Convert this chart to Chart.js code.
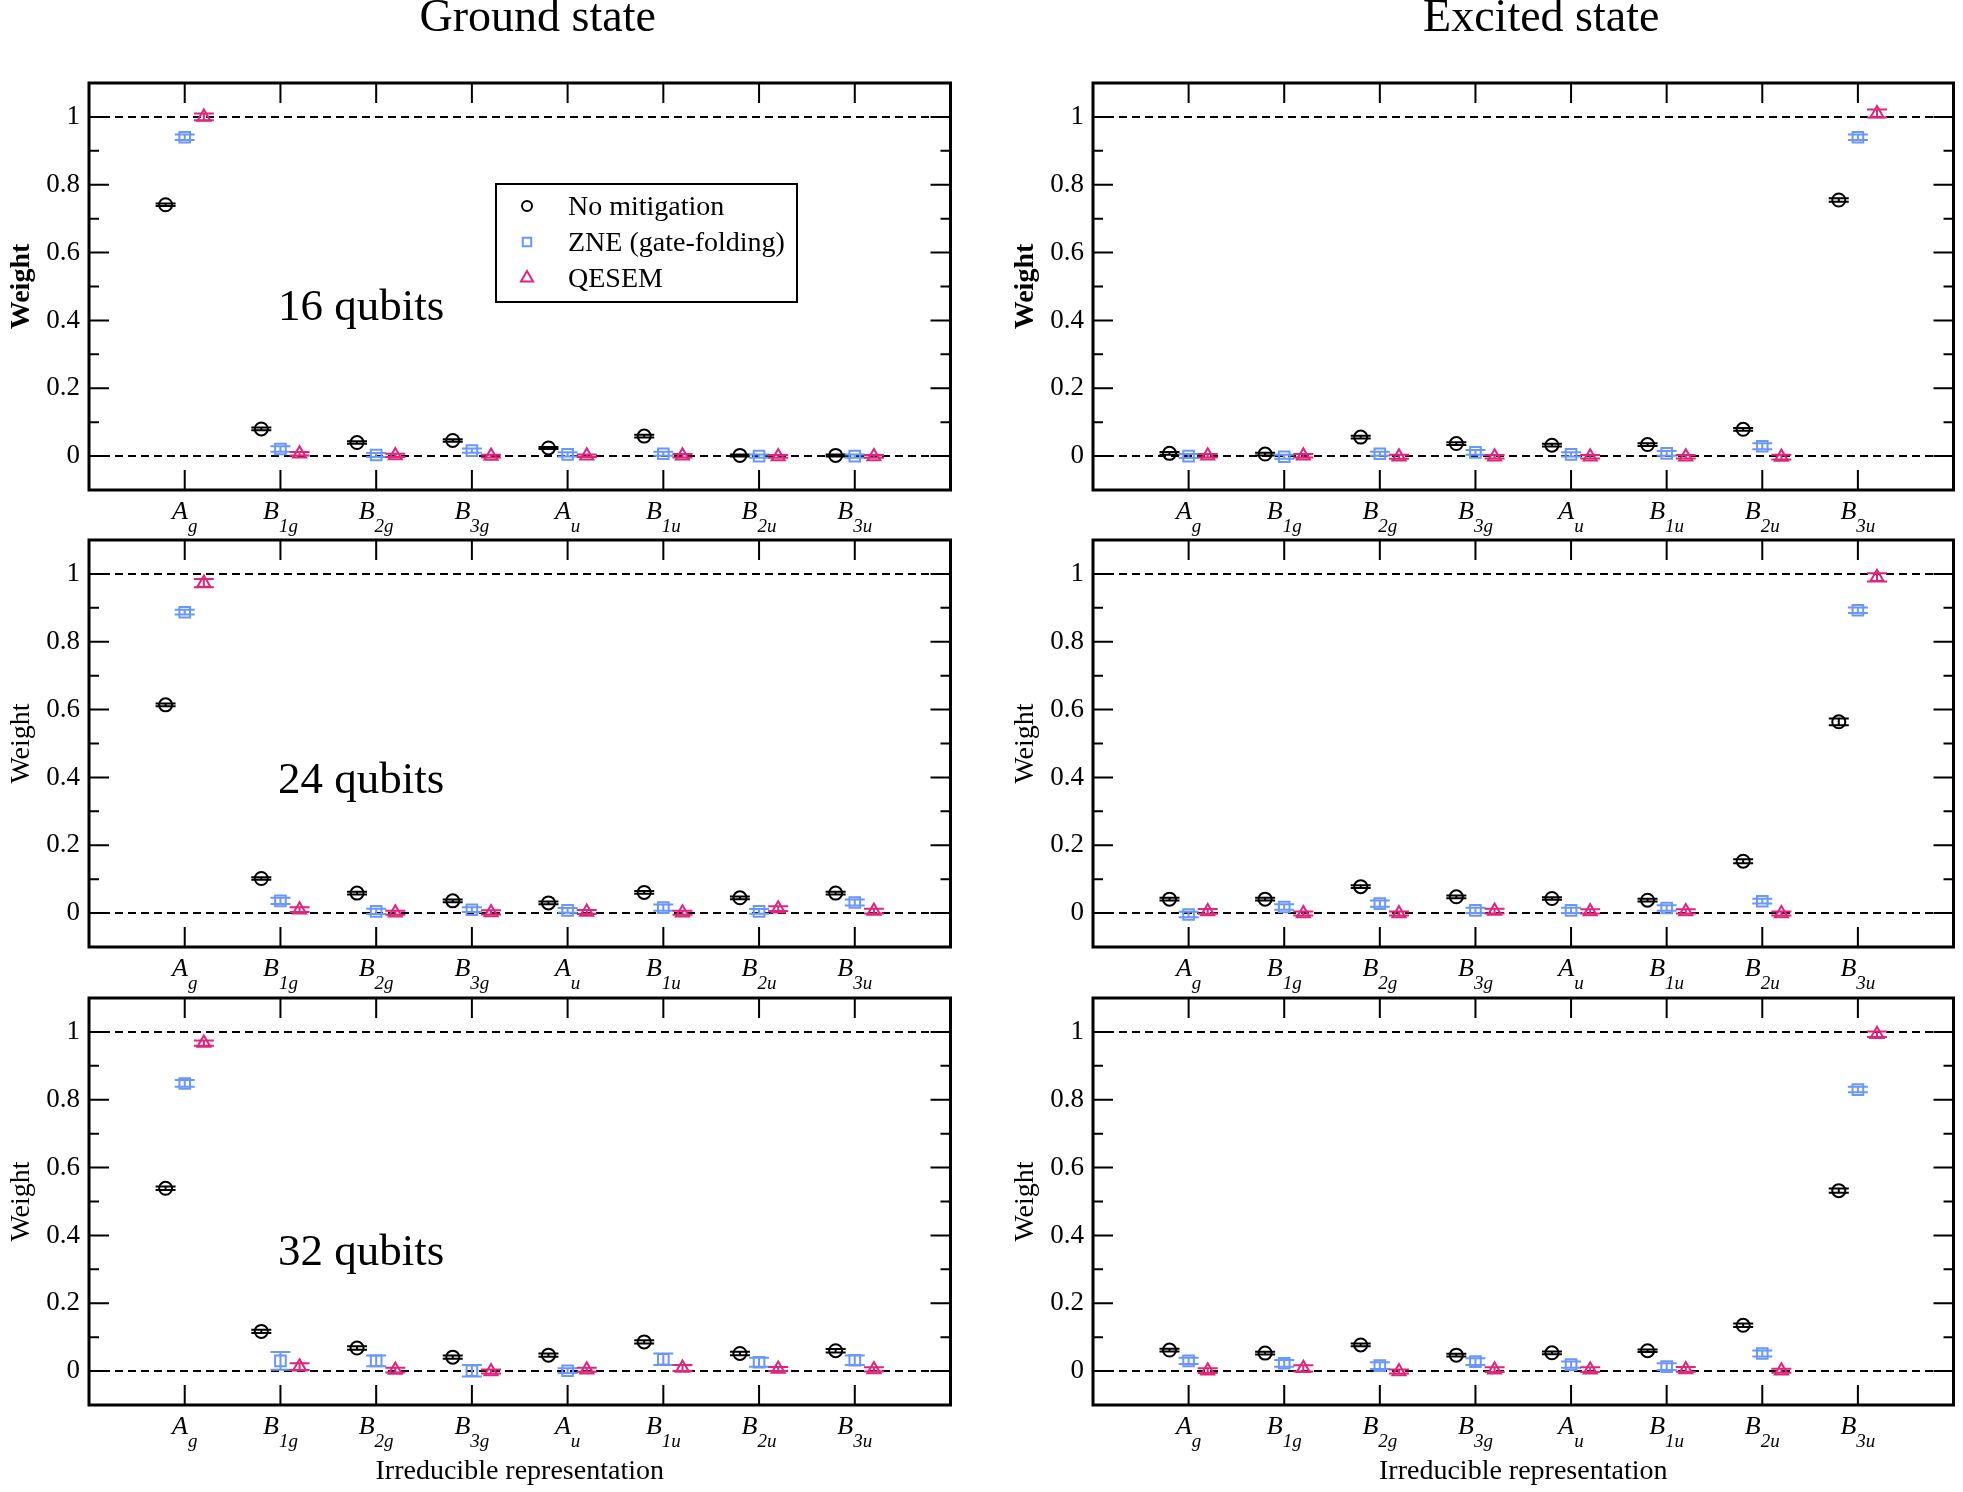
<!DOCTYPE html>
<html>
<head>
<meta charset="utf-8">
<script src="https://cdn.jsdelivr.net/npm/chart.js@4.4.1/dist/chart.umd.min.js"></script>
<style>
  html, body { margin: 0; padding: 0; background: #fff; }
  body { width: 1963px; height: 1492px; position: relative; overflow: hidden; }
  canvas { position: absolute; }
</style>
</head>
<body>
<canvas id="g16"></canvas>
<canvas id="e16"></canvas>
<canvas id="g24"></canvas>
<canvas id="e24"></canvas>
<canvas id="g32"></canvas>
<canvas id="e32"></canvas>
<script>
// irreducible representations (x axis), written as letter + subscript
const irrepMain = ['A', 'B', 'B', 'B', 'A', 'B', 'B', 'B'];
const irrepSub = ['g', '1g', '2g', '3g', 'u', '1u', '2u', '3u'];
const seriesNames = ['No mitigation', 'ZNE (gate-folding)', 'QESEM'];
const yTickValues = [0, 0.2, 0.4, 0.6, 0.8, 1];
const yMinorValues = [0.1, 0.3, 0.5, 0.7, 0.9];
const refLines = [0, 1];

// ground state weights
const ground16NoMit = [0.741, 0.080, 0.040, 0.046, 0.024, 0.059, 0.002, 0.002];
const ground16Zne   = [0.940, 0.021, 0.003, 0.016, 0.005, 0.007, 0.000, 0.000];
const ground16Qesem = [1.000, 0.007, 0.002, 0.000, 0.001, 0.001, -0.001, -0.001];
const ground24NoMit = [0.614, 0.102, 0.059, 0.036, 0.030, 0.061, 0.045, 0.059];
const ground24Zne   = [0.887, 0.036, 0.005, 0.010, 0.008, 0.016, 0.005, 0.031];
const ground24Qesem = [0.973, 0.010, 0.001, 0.002, 0.003, 0.001, 0.013, 0.006];
const ground32NoMit = [0.539, 0.117, 0.068, 0.041, 0.047, 0.086, 0.052, 0.060];
const ground32Zne   = [0.848, 0.030, 0.030, 0.001, 0.001, 0.035, 0.026, 0.032];
const ground32Qesem = [0.967, 0.013, 0.003, -0.001, 0.004, 0.009, 0.006, 0.005];

// excited state weights
const exc16NoMit = [0.008, 0.006, 0.056, 0.037, 0.032, 0.034, 0.079, 0.755];
const exc16Zne   = [0.000, -0.002, 0.007, 0.011, 0.005, 0.008, 0.029, 0.940];
const exc16Qesem = [0.001, 0.001, -0.002, -0.002, -0.002, -0.002, -0.003, 1.010];
const exc24NoMit = [0.041, 0.041, 0.078, 0.048, 0.043, 0.038, 0.153, 0.564];
const exc24Zne   = [-0.004, 0.018, 0.028, 0.008, 0.008, 0.015, 0.035, 0.893];
const exc24Qesem = [0.005, -0.001, -0.001, 0.006, 0.005, 0.005, -0.001, 0.990];
const exc32NoMit = [0.062, 0.053, 0.077, 0.047, 0.054, 0.060, 0.135, 0.532];
const exc32Zne   = [0.030, 0.023, 0.016, 0.028, 0.019, 0.013, 0.052, 0.830];
const exc32Qesem = [0.001, 0.008, -0.001, 0.004, 0.004, 0.005, 0.001, 0.993];

// error bars (half widths)
const ground16NoMitErr = [0.004, 0.004, 0.004, 0.004, 0.003, 0.004, 0.003, 0.003];
const ground16ZneErr   = [0.008, 0.008, 0.006, 0.006, 0.006, 0.006, 0.005, 0.005];
const ground16QesemErr = [0.010, 0.005, 0.005, 0.004, 0.004, 0.005, 0.004, 0.004];
const ground24NoMitErr = [0.004, 0.004, 0.004, 0.004, 0.004, 0.004, 0.004, 0.004];
const ground24ZneErr   = [0.007, 0.009, 0.008, 0.007, 0.007, 0.009, 0.007, 0.009];
const ground24QesemErr = [0.012, 0.007, 0.006, 0.006, 0.006, 0.006, 0.007, 0.007];
const ground32NoMitErr = [0.005, 0.005, 0.005, 0.005, 0.005, 0.005, 0.005, 0.005];
const ground32ZneErr   = [0.010, 0.026, 0.016, 0.017, 0.007, 0.017, 0.013, 0.014];
const ground32QesemErr = [0.008, 0.010, 0.007, 0.006, 0.006, 0.009, 0.006, 0.006];
const exc16NoMitErr = [0.004, 0.004, 0.004, 0.004, 0.004, 0.004, 0.004, 0.005];
const exc16ZneErr   = [0.006, 0.006, 0.006, 0.007, 0.006, 0.007, 0.009, 0.008];
const exc16QesemErr = [0.005, 0.005, 0.006, 0.005, 0.005, 0.005, 0.007, 0.012];
const exc24NoMitErr = [0.004, 0.004, 0.004, 0.004, 0.004, 0.004, 0.006, 0.010];
const exc24ZneErr   = [0.008, 0.008, 0.009, 0.008, 0.008, 0.008, 0.007, 0.008];
const exc24QesemErr = [0.007, 0.006, 0.006, 0.007, 0.006, 0.006, 0.006, 0.012];
const exc32NoMitErr = [0.004, 0.004, 0.004, 0.004, 0.004, 0.004, 0.005, 0.006];
const exc32ZneErr   = [0.009, 0.010, 0.010, 0.010, 0.009, 0.010, 0.009, 0.008];
const exc32QesemErr = [0.007, 0.009, 0.006, 0.007, 0.007, 0.007, 0.006, 0.008];

const FONT = "'Liberation Serif', 'Times New Roman', serif";
Chart.defaults.font.family = FONT;
Chart.defaults.color = '#000';

const colors = ['#000000', '#6a96ff', '#e0257c'];
const pointStyles = ['circle', 'rect', 'triangle'];
const pointRadius = [6.5, 7.5, 7.5];
const xOffsets = [-0.2, 0, 0.2];

// page layout
const colLeft = [0, 1004];
const colWidth = [960, 959];
const rowTop = [0, 457, 915];
const plotTop = 83, plotH = 407;
const axisH = [50, 50, 87];

const panels = [
  { id: 'g16', row: 0, col: 0, title: 'Ground state', note: '16 qubits', noteY: 0.40, legend: true,
    series: [ground16NoMit, ground16Zne, ground16Qesem], errors: [ground16NoMitErr, ground16ZneErr, ground16QesemErr] },
  { id: 'e16', row: 0, col: 1, title: 'Excited state',
    series: [exc16NoMit, exc16Zne, exc16Qesem], errors: [exc16NoMitErr, exc16ZneErr, exc16QesemErr] },
  { id: 'g24', row: 1, col: 0, note: '24 qubits', noteY: 0.355,
    series: [ground24NoMit, ground24Zne, ground24Qesem], errors: [ground24NoMitErr, ground24ZneErr, ground24QesemErr] },
  { id: 'e24', row: 1, col: 1,
    series: [exc24NoMit, exc24Zne, exc24Qesem], errors: [exc24NoMitErr, exc24ZneErr, exc24QesemErr] },
  { id: 'g32', row: 2, col: 0, note: '32 qubits', noteY: 0.313,
    series: [ground32NoMit, ground32Zne, ground32Qesem], errors: [ground32NoMitErr, ground32ZneErr, ground32QesemErr] },
  { id: 'e32', row: 2, col: 1,
    series: [exc32NoMit, exc32Zne, exc32Qesem], errors: [exc32NoMitErr, exc32ZneErr, exc32QesemErr] }
];

function marker(ctx, style, r, px, py) {
  ctx.beginPath();
  if (style === 'circle') {
    ctx.arc(px, py, r, 0, Math.PI * 2);
  } else if (style === 'rect') {
    const h = r * Math.SQRT1_2;
    ctx.rect(px - h, py - h, 2 * h, 2 * h);
  } else {
    ctx.moveTo(px, py - r);
    ctx.lineTo(px + r * 0.866, py + r / 2);
    ctx.lineTo(px - r * 0.866, py + r / 2);
    ctx.closePath();
  }
  ctx.stroke();
}

const panelDecor = {
  id: 'panelDecor',
  beforeDatasetsDraw(chart) {
    const { ctx, chartArea: a, scales: { y } } = chart;
    ctx.save();
    ctx.strokeStyle = '#000';
    ctx.lineWidth = 2;
    ctx.setLineDash([8, 5]);
    refLines.forEach(v => {
      const py = Math.round(y.getPixelForValue(v));
      ctx.beginPath();
      ctx.moveTo(a.left, py);
      ctx.lineTo(a.right, py);
      ctx.stroke();
    });
    ctx.restore();
  },
  afterDatasetsDraw(chart) {
    const { ctx, scales: { x, y } } = chart;
    ctx.save();
    ctx.lineWidth = 2;
    chart.data.datasets.forEach(ds => {
      ctx.strokeStyle = ds.borderColor;
      ds.data.forEach((p, i) => {
        const px = x.getPixelForValue(p.x);
        const top = y.getPixelForValue(p.y + ds.errors[i]);
        const bot = y.getPixelForValue(p.y - ds.errors[i]);
        ctx.beginPath();
        ctx.moveTo(px, top); ctx.lineTo(px, bot);
        ctx.moveTo(px - 10, top); ctx.lineTo(px + 10, top);
        ctx.moveTo(px - 10, bot); ctx.lineTo(px + 10, bot);
        ctx.stroke();
      });
    });
    ctx.restore();
  },
  afterDraw(chart, args, o) {
    const { ctx, chartArea: a, scales: { x, y } } = chart;
    ctx.save();
    ctx.strokeStyle = '#000';
    ctx.fillStyle = '#000';

    // ticks inside the frame
    ctx.lineWidth = 2;
    ctx.beginPath();
    irrepMain.forEach((_, i) => {
      const px = x.getPixelForValue(i + 1);
      ctx.moveTo(px, a.top); ctx.lineTo(px, a.top + 20);
      ctx.moveTo(px, a.bottom); ctx.lineTo(px, a.bottom - 20);
    });
    yTickValues.forEach(v => {
      const py = y.getPixelForValue(v);
      ctx.moveTo(a.left, py); ctx.lineTo(a.left + 20, py);
      ctx.moveTo(a.right, py); ctx.lineTo(a.right - 20, py);
    });
    yMinorValues.forEach(v => {
      const py = y.getPixelForValue(v);
      ctx.moveTo(a.left, py); ctx.lineTo(a.left + 10, py);
      ctx.moveTo(a.right, py); ctx.lineTo(a.right - 10, py);
    });
    ctx.stroke();

    // frame
    ctx.lineWidth = 3;
    ctx.strokeRect(a.left, a.top, a.right - a.left, a.bottom - a.top);

    // x labels with subscripts
    ctx.textBaseline = 'alphabetic';
    ctx.textAlign = 'left';
    irrepMain.forEach((m, i) => {
      const px = x.getPixelForValue(i + 1);
      ctx.font = 'italic 26px ' + FONT;
      const w1 = ctx.measureText(m).width;
      ctx.font = 'italic 19px ' + FONT;
      const w2 = ctx.measureText(irrepSub[i]).width;
      const x0 = px - (w1 + w2) / 2;
      ctx.font = 'italic 26px ' + FONT;
      ctx.fillText(m, x0, a.bottom + 29);
      ctx.font = 'italic 19px ' + FONT;
      ctx.fillText(irrepSub[i], x0 + w1, a.bottom + 42);
    });

    // panel title
    if (o.title) {
      ctx.font = '46px ' + FONT;
      ctx.textAlign = 'center';
      ctx.fillText(o.title, (a.left + a.right) / 2 + 18, 31);
    }

    // qubit count
    if (o.note) {
      ctx.font = '45px ' + FONT;
      ctx.textAlign = 'left';
      ctx.fillText(o.note, a.left + 189, y.getPixelForValue(o.noteY));
    }

    // legend
    if (o.legend) {
      const bx = a.left + 407, by = a.top + 101, bw = 301, bh = 118;
      ctx.lineWidth = 2;
      ctx.strokeRect(bx, by, bw, bh);
      ctx.font = '28px ' + FONT;
      ctx.textAlign = 'left';
      const legendR = [5, 6, 7];
      chart.data.datasets.forEach((ds, s) => {
        ctx.strokeStyle = ds.borderColor;
        marker(ctx, ds.pointStyle, legendR[s], bx + 31, by + 22 + 36 * s);
        ctx.fillStyle = '#000';
        ctx.fillText(ds.label, bx + 72, by + 31 + 36 * s);
      });
    }
    ctx.restore();
  }
};

panels.forEach(p => {
  const canvas = document.getElementById(p.id);
  const w = colWidth[p.col];
  const h = plotTop + plotH + axisH[p.row];
  canvas.width = w;
  canvas.height = h;
  canvas.style.left = colLeft[p.col] + 'px';
  canvas.style.top = rowTop[p.row] + 'px';
  canvas.style.width = w + 'px';
  canvas.style.height = h + 'px';

  new Chart(canvas, {
    type: 'scatter',
    data: {
      datasets: p.series.map((vals, s) => ({
        label: seriesNames[s],
        data: vals.map((v, i) => ({ x: i + 1 + xOffsets[s], y: v })),
        errors: p.errors[s],
        pointStyle: pointStyles[s],
        pointRadius: pointRadius[s],
        pointHoverRadius: pointRadius[s],
        borderColor: colors[s],
        backgroundColor: 'rgba(0,0,0,0)',
        pointBorderWidth: 2,
        borderWidth: 2
      }))
    },
    options: {
      responsive: false,
      animation: false,
      events: [],
      layout: { padding: { top: plotTop, right: 6, left: 0, bottom: 0 } },
      plugins: {
        legend: { display: false },
        tooltip: { enabled: false },
        panelDecor: { title: p.title, note: p.note, noteY: p.noteY, legend: p.legend }
      },
      scales: {
        x: {
          type: 'linear', min: 0, max: 9,
          grid: { display: false, drawTicks: false },
          border: { display: false },
          ticks: { display: false },
          title: {
            display: p.row === 2, text: 'Irreducible representation', color: '#000',
            font: { family: FONT, size: 28 }, padding: { top: 0, bottom: 4 }
          },
          afterFit: s => { s.height = axisH[p.row]; }
        },
        y: {
          min: -0.1, max: 1.1,
          grid: { display: false, drawTicks: false },
          border: { display: false },
          afterBuildTicks: s => { s.ticks = yTickValues.map(v => ({ value: v })); },
          ticks: {
            font: { family: FONT, size: 27 }, padding: 9, color: '#000',
            callback: v => String(Math.round(v * 10) / 10)
          },
          title: {
            display: true, text: 'Weight', color: '#000',
            font: { family: FONT, size: 28, weight: p.row === 0 ? 'bold' : 'normal' },
            padding: { top: 5, bottom: 0 }
          },
          afterFit: s => { s.width = 89; }
        }
      }
    },
    plugins: [panelDecor]
  });
});
</script>
</body>
</html>
